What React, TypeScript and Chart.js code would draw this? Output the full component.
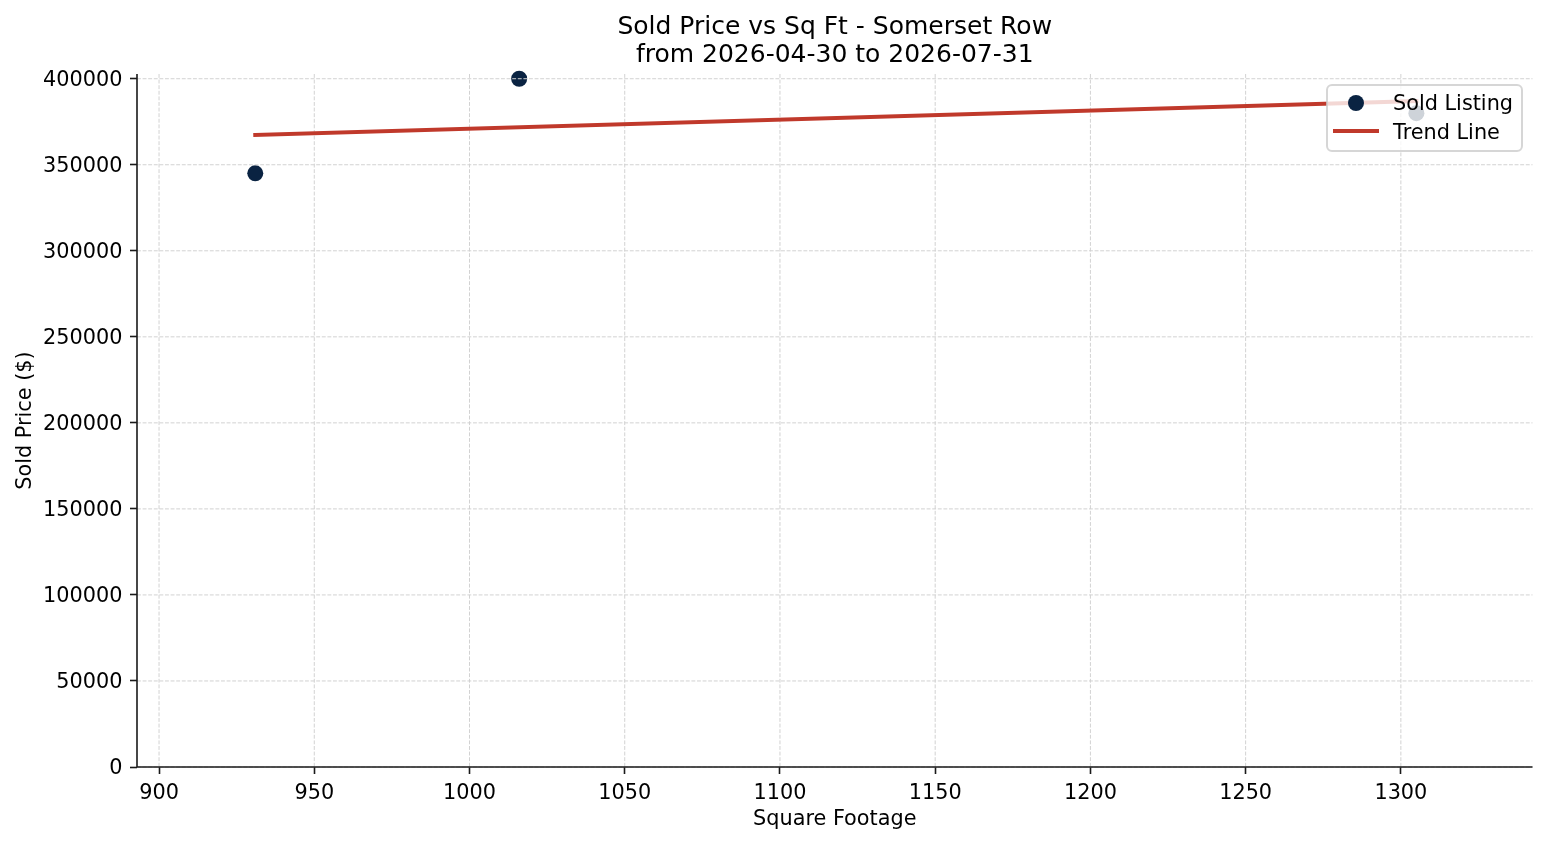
import { useEffect, useRef } from "react";
import { Chart, registerables } from "chart.js";

Chart.register(...registerables);

// ---- data ----
const sqft = [931, 1016, 1305];
const soldPrice = [345000, 400000, 380000];
const trendSqft = [931, 1305];
const trendPrice = [367300, 387000];
const xTickValues = [900, 950, 1000, 1050, 1100, 1150, 1200, 1250, 1300];
const yTickValues = [0, 50000, 100000, 150000, 200000, 250000, 300000, 350000, 400000];
const titleLines = ["Sold Price vs Sq Ft - Somerset Row", "from 2026-04-30 to 2026-07-31"];
const xLabel = "Square Footage";
const yLabel = "Sold Price ($)";
const legendLabels = ["Sold Listing", "Trend Line"];

const FONT = '"DejaVu Sans", sans-serif';
const NAVY = "#0a2342";
const RED = "#c0392b";
const AXIS = "#1a1a1a";
const GRID = "#d2d2d2";
const FS = 20.8;

export default function App() {
  const ref = useRef<HTMLCanvasElement>(null);

  useEffect(() => {
    document.body.style.margin = "0";
    const canvas = ref.current!;

    const mplPlugin = {
      id: "mplLook",
      afterDatasetDraw(chart: any, args: any) {
        if (args.index !== 1) return;
        const { ctx, chartArea: a, scales } = chart;
        ctx.save();
        ctx.strokeStyle = GRID;
        ctx.lineWidth = 1;
        ctx.setLineDash([3.9, 1.7]);
        for (const v of xTickValues) {
          const px = scales.x.getPixelForValue(v);
          ctx.beginPath();
          ctx.moveTo(px, a.top);
          ctx.lineTo(px, a.bottom);
          ctx.stroke();
        }
        for (const v of yTickValues) {
          const py = scales.y.getPixelForValue(v);
          ctx.beginPath();
          ctx.moveTo(a.left, py);
          ctx.lineTo(a.right, py);
          ctx.stroke();
        }
        ctx.restore();
      },
      afterDraw(chart: any) {
        const { ctx, chartArea: a } = chart;
        ctx.save();
        // spines
        ctx.strokeStyle = AXIS;
        ctx.lineWidth = 1.6;
        ctx.setLineDash([]);
        ctx.beginPath();
        ctx.moveTo(a.left, a.top);
        ctx.lineTo(a.left, a.bottom);
        ctx.lineTo(a.right, a.bottom);
        ctx.stroke();

        // title
        const cx = (a.left + a.right) / 2;
        ctx.fillStyle = "#000";
        ctx.textAlign = "center";
        ctx.textBaseline = "alphabetic";
        ctx.font = `25px ${FONT}`;
        ctx.fillText(titleLines[0], cx, 34);
        ctx.fillText(titleLines[1], cx, 61.5);

        // axis labels
        ctx.font = `${FS}px ${FONT}`;
        ctx.fillText(xLabel, cx, 825);
        ctx.save();
        ctx.translate(30.7, (a.top + a.bottom) / 2);
        ctx.rotate(-Math.PI / 2);
        ctx.fillText(yLabel, 0, 0);
        ctx.restore();

        // legend
        const lx = 1327, ly = 85, lw = 195, lh = 66, r = 5;
        ctx.beginPath();
        ctx.moveTo(lx + r, ly);
        ctx.arcTo(lx + lw, ly, lx + lw, ly + lh, r);
        ctx.arcTo(lx + lw, ly + lh, lx, ly + lh, r);
        ctx.arcTo(lx, ly + lh, lx, ly, r);
        ctx.arcTo(lx, ly, lx + lw, ly, r);
        ctx.closePath();
        ctx.fillStyle = "rgba(255,255,255,0.8)";
        ctx.fill();
        ctx.strokeStyle = "rgba(204,204,204,0.8)";
        ctx.lineWidth = 2;
        ctx.stroke();

        ctx.beginPath();
        ctx.arc(1356, 103, 8, 0, Math.PI * 2);
        ctx.fillStyle = NAVY;
        ctx.fill();

        ctx.beginPath();
        ctx.moveTo(1333, 131);
        ctx.lineTo(1379, 131);
        ctx.strokeStyle = RED;
        ctx.lineWidth = 4;
        ctx.stroke();

        ctx.fillStyle = "#000";
        ctx.textAlign = "left";
        ctx.font = `${FS}px ${FONT}`;
        ctx.fillText(legendLabels[0], 1393, 109.5);
        ctx.fillText(legendLabels[1], 1393, 138.5);
        ctx.restore();
      },
    };

    const tickFont = { family: FONT, size: FS };

    const chart = new Chart(canvas, {
      type: "scatter",
      data: {
        datasets: [
          {
            type: "line",
            label: legendLabels[1],
            data: trendSqft.map((x, i) => ({ x, y: trendPrice[i] })),
            borderColor: RED,
            backgroundColor: RED,
            borderWidth: 4,
            borderCapStyle: "square",
            pointRadius: 0,
            fill: false,
            tension: 0,
          } as any,
          {
            type: "scatter",
            label: legendLabels[0],
            data: sqft.map((x, i) => ({ x, y: soldPrice[i] })),
            backgroundColor: NAVY,
            borderColor: NAVY,
            borderWidth: 0,
            pointRadius: 8,
            pointHoverRadius: 8,
            clip: false,
          } as any,
        ],
      },
      options: {
        animation: false,
        responsive: false,
        devicePixelRatio: 1,
        events: [],
        layout: { padding: { top: 74, right: 14.5, left: 0, bottom: 0 } },
        plugins: {
          legend: { display: false },
          title: { display: false },
          tooltip: { enabled: false },
        },
        scales: {
          x: {
            type: "linear",
            position: "bottom",
            min: 892.9,
            max: 1342.4,
            afterBuildTicks: (s: any) => {
              s.ticks = xTickValues.map((v) => ({ value: v }));
            },
            afterFit: (s: any) => {
              s.height = 78;
            },
            grid: {
              display: true,
              drawOnChartArea: false,
              drawTicks: true,
              tickLength: 7,
              tickColor: AXIS,
              tickWidth: 1.6,
            },
            border: { display: false },
            ticks: {
              font: tickFont,
              color: "#000",
              padding: 7,
              maxRotation: 0,
              autoSkip: false,
              callback: (v: any) => String(v),
            },
          },
          y: {
            type: "linear",
            position: "left",
            min: 0,
            max: 402750,
            afterBuildTicks: (s: any) => {
              s.ticks = yTickValues.map((v) => ({ value: v }));
            },
            afterFit: (s: any) => {
              s.width = 137;
            },
            grid: {
              display: true,
              drawOnChartArea: false,
              drawTicks: true,
              tickLength: 7,
              tickColor: AXIS,
              tickWidth: 1.6,
            },
            border: { display: false },
            ticks: {
              font: tickFont,
              color: "#000",
              padding: 7.5,
              labelOffset: 1.5,
              autoSkip: false,
              callback: (v: any) => String(v),
            },
          },
        },
      } as any,
      plugins: [mplPlugin],
    });

    return () => chart.destroy();
  }, []);

  return (
    <div style={{ width: 1547, height: 845, position: "relative" }}>
      <canvas ref={ref} width={1547} height={845} style={{ display: "block", width: 1547, height: 845 }} />
    </div>
  );
}
